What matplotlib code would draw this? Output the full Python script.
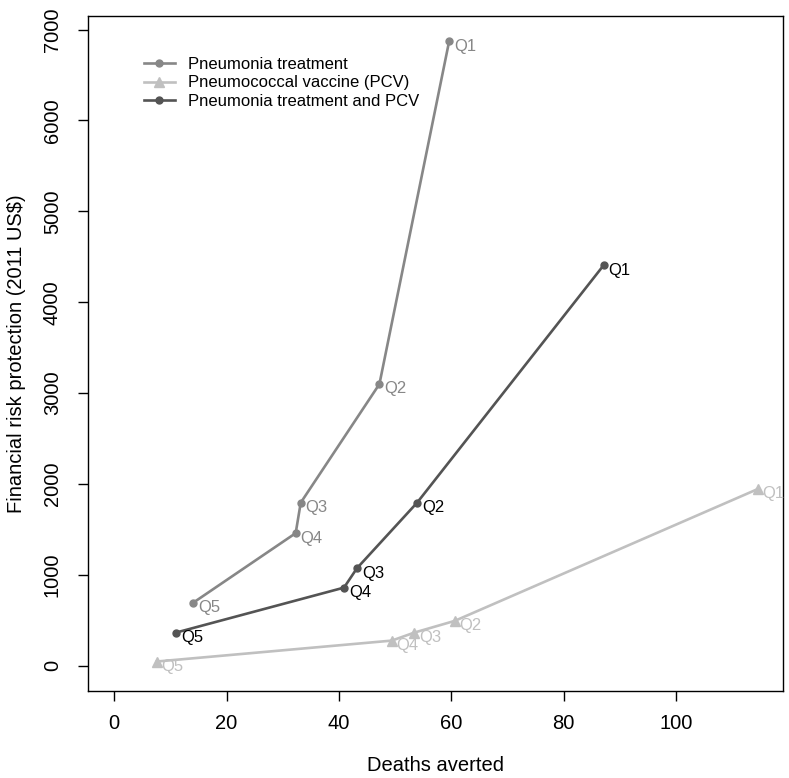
import matplotlib
matplotlib.use("Agg")
import matplotlib.pyplot as plt

plt.rcParams['font.family'] = ['Liberation Sans', 'DejaVu Sans']

quintiles = ["Q1", "Q2", "Q3", "Q4", "Q5"]

# deaths averted / financial risk protection (2011 US$), per income quintile
treat_x = [59.6, 47.2, 33.2, 32.3, 14.1]
treat_y = [6870, 3100, 1795, 1460, 696]

pcv_x = [114.5, 60.6, 53.4, 49.4, 7.6]
pcv_y = [1945, 495, 366, 278, 48]

both_x = [87.1, 53.9, 43.2, 40.9, 11.0]
both_y = [4408, 1795, 1074, 861, 366]

c_treat = "#878787"
c_pcv = "#c0c0c0"
c_both = "#545454"

fig = plt.figure(figsize=(7.89, 7.78), dpi=100)
ax = fig.add_axes([0.112, 0.112, 0.881, 0.867])

ax.plot(treat_x, treat_y, color=c_treat, lw=1.9, marker="o", ms=5,
        label="Pneumonia treatment")
ax.plot(pcv_x, pcv_y, color=c_pcv, lw=1.9, marker="^", ms=7,
        label="Pneumococcal vaccine (PCV)")
ax.plot(both_x, both_y, color=c_both, lw=1.9, marker="o", ms=5,
        label="Pneumonia treatment and PCV")

# quintile labels next to each point
for xs, ys, col in [(treat_x, treat_y, c_treat), (pcv_x, pcv_y, c_pcv),
                    (both_x, both_y, "black")]:
    for q, x, y in zip(quintiles, xs, ys):
        ax.annotate(q, (x, y), xytext=(3.5, -3.5), textcoords="offset points",
                    ha="left", va="center", fontsize=12, color=col)

# R-style 4% padding around the data range
ax.set_xlim(-0.04 * 114.5, 114.5 * 1.04)
ax.set_ylim(-0.04 * 6870, 6870 * 1.04)
ax.set_xticks([0, 20, 40, 60, 80, 100])
ax.set_yticks(range(0, 7001, 1000))
ax.tick_params(direction="out", length=7, width=1, labelsize=14.5)
ax.tick_params(axis="x", pad=10)
ax.tick_params(axis="y", pad=12)
for lab in ax.get_yticklabels():
    lab.set_rotation(90)
    lab.set_va("center")
for s in ax.spines.values():
    s.set_linewidth(1)

ax.set_xlabel("Deaths averted", fontsize=14.5, labelpad=16)
ax.set_ylabel("Financial risk protection (2011 US$)", fontsize=14.5, labelpad=12)

ax.legend(loc="upper left", bbox_to_anchor=(0.07, 0.95), frameon=False,
          fontsize=12, handlelength=1.85, handletextpad=0.8, labelspacing=0.22,
          borderaxespad=0)

fig.savefig("out.png", dpi=100)
